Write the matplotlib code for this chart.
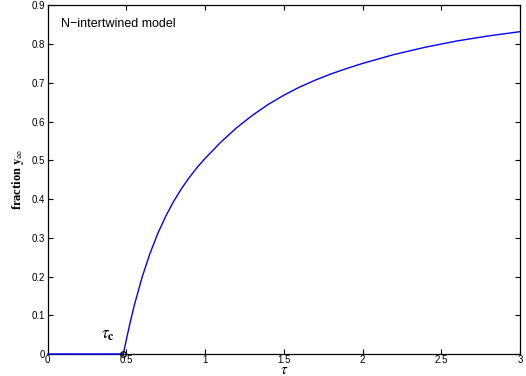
import matplotlib
matplotlib.use('Agg')
import matplotlib.pyplot as plt
from matplotlib.ticker import FormatStrFormatter

# values
tau = [0, 0.48, 0.50, 0.52, 0.55, 0.60, 0.65, 0.70, 0.75, 0.80, 0.85, 0.90,
       0.95, 1.0, 1.1, 1.2, 1.3, 1.4, 1.5, 1.6, 1.7, 1.8, 1.9, 2.0, 2.2,
       2.4, 2.6, 2.8, 3.0]
y_inf = [0, 0, 0.038, 0.075, 0.126, 0.199, 0.26, 0.312, 0.356, 0.394, 0.427,
         0.456, 0.482, 0.505, 0.547, 0.584, 0.616, 0.644, 0.668, 0.689, 0.707,
         0.723, 0.737, 0.75, 0.773, 0.792, 0.808, 0.821, 0.832]
tau_c = 0.48

x_ticks = [0, 0.5, 1, 1.5, 2, 2.5, 3]
y_ticks = [0, 0.1, 0.2, 0.3, 0.4, 0.5, 0.6, 0.7, 0.8, 0.9]

plt.rcParams['font.family'] = ['Liberation Sans', 'DejaVu Sans']
plt.rcParams['mathtext.fontset'] = 'stix'

fig = plt.figure(figsize=(5.26, 3.76), dpi=100)
ax = fig.add_axes([0.0907, 0.0585, 0.898, 0.9274])

ax.plot(tau, y_inf, color='#0000ff', linewidth=1.0, zorder=3, clip_on=False)
ax.plot(tau_c, 0, 'o', markersize=4, markerfacecolor='none',
        markeredgecolor='black', markeredgewidth=0.9, clip_on=False, zorder=4)

ax.set_xlim(0, 3)
ax.set_ylim(0, 0.9)
ax.set_xticks(x_ticks)
ax.set_yticks(y_ticks)
ax.xaxis.set_major_formatter(FormatStrFormatter('%g'))
ax.yaxis.set_major_formatter(FormatStrFormatter('%g'))
ax.tick_params(direction='in', length=3.5, width=0.8, labelsize=7,
               top=True, right=True, pad=2)
ax.tick_params(axis='x', pad=1)
for s in ax.spines.values():
    s.set_linewidth(0.9)

ax.text(0.083, 0.852, 'N\u2212intertwined model', fontsize=9, va='center')
ax.text(0.385, 0.047, r'$\tau_{\mathbf{c}}$', fontsize=12, ha='center',
        va='center')

ax.set_xlabel(r'$\tau$', fontsize=11, labelpad=-2)
ax.set_ylabel(r'fraction $\mathbf{y}_{\infty}$', fontsize=9,
              fontweight='bold', family='Liberation Serif', labelpad=4)

fig.savefig('out.png', dpi=100)
